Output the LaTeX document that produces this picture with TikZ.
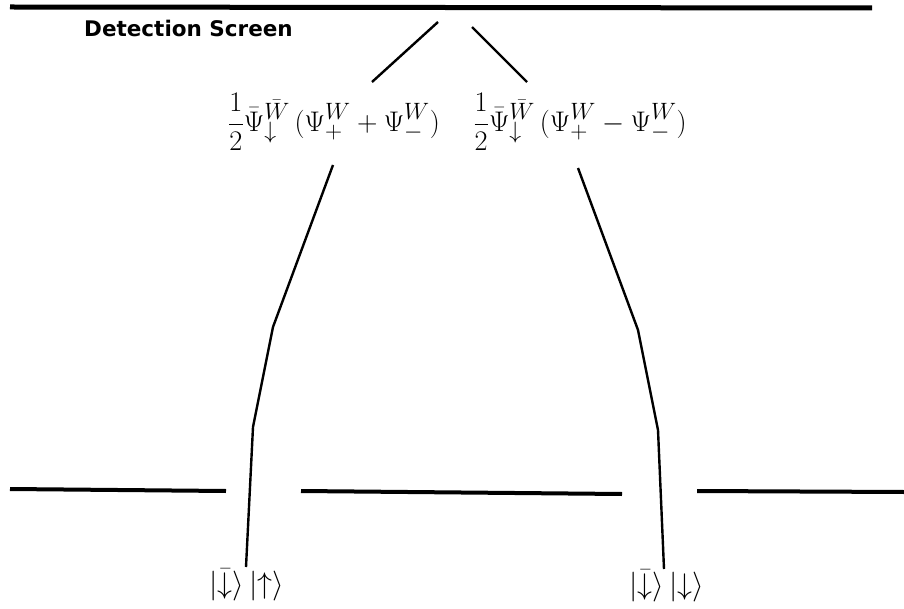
\documentclass[tikz,border=0pt]{standalone}
\usepackage{fontspec}
\usepackage{graphicx}
\newfontfamily\labelfont{DejaVu Sans}
\newcommand{\fscale}[1]{\scalebox{1.14}{#1}}
\newcommand{\kscale}[1]{\scalebox{1.2}{#1}}
\begin{document}
\begin{tikzpicture}[x=1pt,y=-1pt,
  screen/.style={line width=5pt},
  barrier/.style={line width=4pt},
  ray/.style={line width=2.4pt, line join=round},
  formula/.style={inner sep=0pt, font=\fontsize{24.88}{30}\selectfont},
  ketlab/.style={inner sep=0pt, font=\fontsize{24.88}{30}\selectfont}]
\useasboundingbox (0,0) rectangle (904,609);
% detection screen
\draw[screen] (10,7) -- (872,8);
\node[anchor=base west, inner sep=0pt, font=\labelfont\bfseries\fontsize{21.5}{24}\selectfont] (title) at (84,37) {Detection Screen};
% short rays near the screen
\coordinate (s1a) at (438,22); \coordinate (s1b) at (372,82);
\coordinate (s2a) at (472,27); \coordinate (s2b) at (527,82);
\draw[ray] (s1a) -- (s1b);
\draw[ray] (s2a) -- (s2b);
% formulas
\node[formula] (fL) at (334,122) {\fscale{$\displaystyle\frac{1}{2}\bar\Psi^{\bar W}_{\downarrow}\,(\Psi^W_+ + \Psi^W_-)$}};
\node[formula] (fR) at (580,122) {\fscale{$\displaystyle\frac{1}{2}\bar\Psi^{\bar W}_{\downarrow}\,(\Psi^W_+ - \Psi^W_-)$}};
% barrier
\draw[barrier] (10,489) -- (226,491);
\draw[barrier] (301,491) -- (622,494);
\draw[barrier] (697,491) -- (904,492);
% kets
\node[ketlab] (kL) at (247,585) {\kscale{$\vert\mathord{\bar\downarrow}\rangle\,\vert\mathord{\uparrow}\rangle$}};
\node[ketlab] (kR) at (667,586) {\kscale{$\vert\mathord{\bar\downarrow}\rangle\,\vert\mathord{\downarrow}\rangle$}};
% rays from slits
\coordinate (l1) at (333,165); \coordinate (l2) at (273,327); \coordinate (l3) at (253,427); \coordinate (l4) at (246,567);
\coordinate (r1) at (578,168); \coordinate (r2) at (638,330); \coordinate (r3) at (658,430); \coordinate (r4) at (664,569);
\draw[ray] (l1) -- (l2) -- (l3) -- (l4);
\draw[ray] (r1) -- (r2) -- (r3) -- (r4);
\end{tikzpicture}
\end{document}
